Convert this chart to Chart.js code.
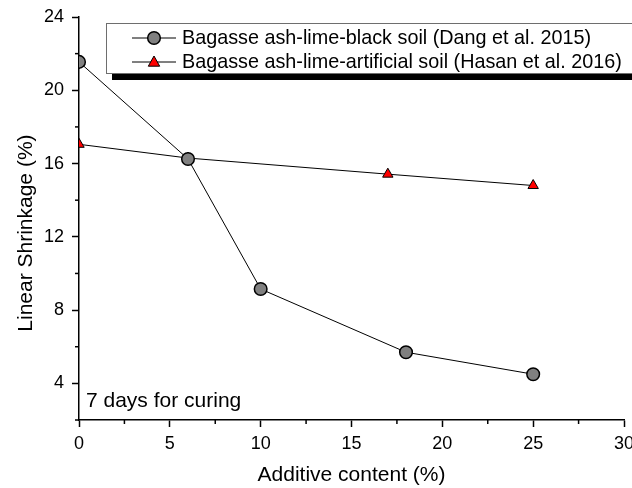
<!DOCTYPE html>
<html>
<head>
<meta charset="utf-8">
<script src="https://cdn.jsdelivr.net/npm/chart.js@4/dist/chart.umd.min.js"></script>
<style>
  html, body { margin: 0; padding: 0; background: #fff; }
  canvas { display: block; }
</style>
</head>
<body>
<canvas id="c" width="632" height="488"></canvas>
<script>
// data
const dangX = [0, 6, 10, 18, 25];
const dangY = [21.55, 16.25, 9.15, 5.7, 4.5];
const hasanX = [0, 6, 17, 25];
const hasanY = [17.05, 16.3, 15.42, 14.8];
const seriesLabels = [
    'Bagasse ash-lime-black soil (Dang et al. 2015)',
    'Bagasse ash-lime-artificial soil (Hasan et al. 2016)'
];
const noteText = '7 days for curing';
const xTitle = 'Additive content (%)';
const yTitle = 'Linear Shrinkage (%)';

const FONT = 'Arial, "Liberation Sans", sans-serif';

const toPoints = (xs, ys) => xs.map((x, i) => ({ x: x, y: ys[i] }));

// markers on the axes get cut at the plot edge, like the original
const clipToArea = {
    id: 'clipToArea',
    beforeDatasetsDraw(chart) {
        const a = chart.chartArea;
        chart.ctx.save();
        chart.ctx.beginPath();
        chart.ctx.rect(a.left, a.top, a.right - a.left, a.bottom - a.top);
        chart.ctx.clip();
    },
    afterDatasetsDraw(chart) {
        chart.ctx.restore();
    }
};

// minor ticks (shorter) + legend box + note
const extras = {
    id: 'extras',
    afterDraw(chart) {
        const ctx = chart.ctx;
        const area = chart.chartArea;
        const xs = chart.scales.x, ys = chart.scales.y;
        ctx.save();
        ctx.strokeStyle = '#000';
        ctx.lineWidth = 1.5;
        xs.ticks.forEach(t => {
            if (t.value % 5 !== 0) {
                const px = xs.getPixelForValue(t.value);
                ctx.beginPath();
                ctx.moveTo(px, area.bottom);
                ctx.lineTo(px, area.bottom + 4);
                ctx.stroke();
            }
        });
        ys.ticks.forEach(t => {
            if (t.value % 4 !== 0) {
                const py = ys.getPixelForValue(t.value);
                ctx.beginPath();
                ctx.moveTo(area.left, py);
                ctx.lineTo(area.left - 4, py);
                ctx.stroke();
            }
        });

        // legend with drop shadow
        const lx = 106, ly = 23, lw = 540, lh = 50;
        ctx.fillStyle = '#000';
        ctx.fillRect(lx + 6, ly + lh, lw, 7);
        ctx.fillStyle = '#fff';
        ctx.fillRect(lx, ly, lw, lh);
        ctx.strokeStyle = '#6e6e6e';
        ctx.lineWidth = 1;
        ctx.strokeRect(lx + 0.5, ly + 0.5, lw, lh);

        ctx.font = '19.8px ' + FONT;
        ctx.textBaseline = 'middle';
        chart.data.datasets.forEach((ds, i) => {
            const cy = 38 + i * 24;
            ctx.strokeStyle = '#000';
            ctx.lineWidth = 1;
            ctx.beginPath();
            ctx.moveTo(132, cy);
            ctx.lineTo(176, cy);
            ctx.stroke();
            ctx.fillStyle = ds.pointBackgroundColor;
            ctx.strokeStyle = '#000';
            ctx.lineWidth = ds.pointBorderWidth;
            ctx.beginPath();
            if (ds.pointStyle === 'triangle') {
                const r = ds.pointRadius;
                ctx.moveTo(154, cy - r);
                ctx.lineTo(154 + r * 0.95, cy + r * 0.7);
                ctx.lineTo(154 - r * 0.95, cy + r * 0.7);
                ctx.closePath();
            } else {
                ctx.arc(154, cy, ds.pointRadius, 0, Math.PI * 2);
            }
            ctx.fill();
            ctx.stroke();
            ctx.fillStyle = '#000';
            ctx.fillText(ds.label, 182, cy + 1);
        });

        ctx.font = '21px ' + FONT;
        ctx.textBaseline = 'alphabetic';
        ctx.fillText(noteText, area.left + 7, 407);
        ctx.restore();
    }
};

new Chart(document.getElementById('c').getContext('2d'), {
    type: 'line',
    data: {
        datasets: [
            {
                label: seriesLabels[0],
                data: toPoints(dangX, dangY),
                borderColor: '#000',
                borderWidth: 1,
                pointStyle: 'circle',
                pointRadius: 6.3,
                pointBackgroundColor: '#808080',
                pointBorderColor: '#000',
                pointBorderWidth: 1.5,
                tension: 0
            },
            {
                label: seriesLabels[1],
                data: toPoints(hasanX, hasanY),
                borderColor: '#000',
                borderWidth: 1,
                pointStyle: 'triangle',
                pointRadius: 6,
                pointBackgroundColor: '#ff0000',
                pointBorderColor: '#000',
                pointBorderWidth: 1,
                tension: 0
            }
        ]
    },
    options: {
        responsive: false,
        animation: false,
        layout: { padding: { top: 17, right: 8, left: 0, bottom: 0 } },
        plugins: {
            legend: { display: false },
            tooltip: { enabled: false }
        },
        scales: {
            x: {
                type: 'linear',
                min: 0,
                max: 30,
                border: { display: true, color: '#000', width: 1.5 },
                grid: {
                    drawOnChartArea: false,
                    tickLength: 7,
                    tickWidth: 1.5,
                    tickColor: c => (c.tick && c.tick.value % 5 === 0) ? '#000' : 'rgba(0,0,0,0)'
                },
                ticks: {
                    stepSize: 2.5,
                    autoSkip: false,
                    maxRotation: 0,
                    padding: 6,
                    color: '#000',
                    font: { family: FONT, size: 18 },
                    callback: v => v % 5 === 0 ? v : ''
                },
                title: {
                    display: true,
                    text: xTitle,
                    color: '#000',
                    font: { family: FONT, size: 21 },
                    padding: { top: 2, bottom: 0 }
                },
                afterFit: s => { s.height = 68; s.paddingLeft = 0; s.paddingRight = 0; }
            },
            y: {
                type: 'linear',
                min: 2,
                max: 24,
                border: { display: true, color: '#000', width: 1.5 },
                grid: {
                    drawOnChartArea: false,
                    tickLength: 7,
                    tickWidth: 1.5,
                    tickColor: c => (c.tick && c.tick.value % 4 === 0) ? '#000' : 'rgba(0,0,0,0)'
                },
                ticks: {
                    stepSize: 2,
                    autoSkip: false,
                    padding: 8,
                    color: '#000',
                    font: { family: FONT, size: 18 },
                    callback: v => v % 4 === 0 ? v : ''
                },
                title: {
                    display: true,
                    // trailing spaces nudge the rotated title down a little, as in the original
                    text: yTitle + '     ',
                    color: '#000',
                    font: { family: FONT, size: 21 },
                    padding: { top: 14, bottom: 2 }
                },
                afterFit: s => { s.width = 79; s.paddingTop = 0; s.paddingBottom = 0; }
            }
        }
    },
    plugins: [clipToArea, extras]
});
</script>
</body>
</html>
